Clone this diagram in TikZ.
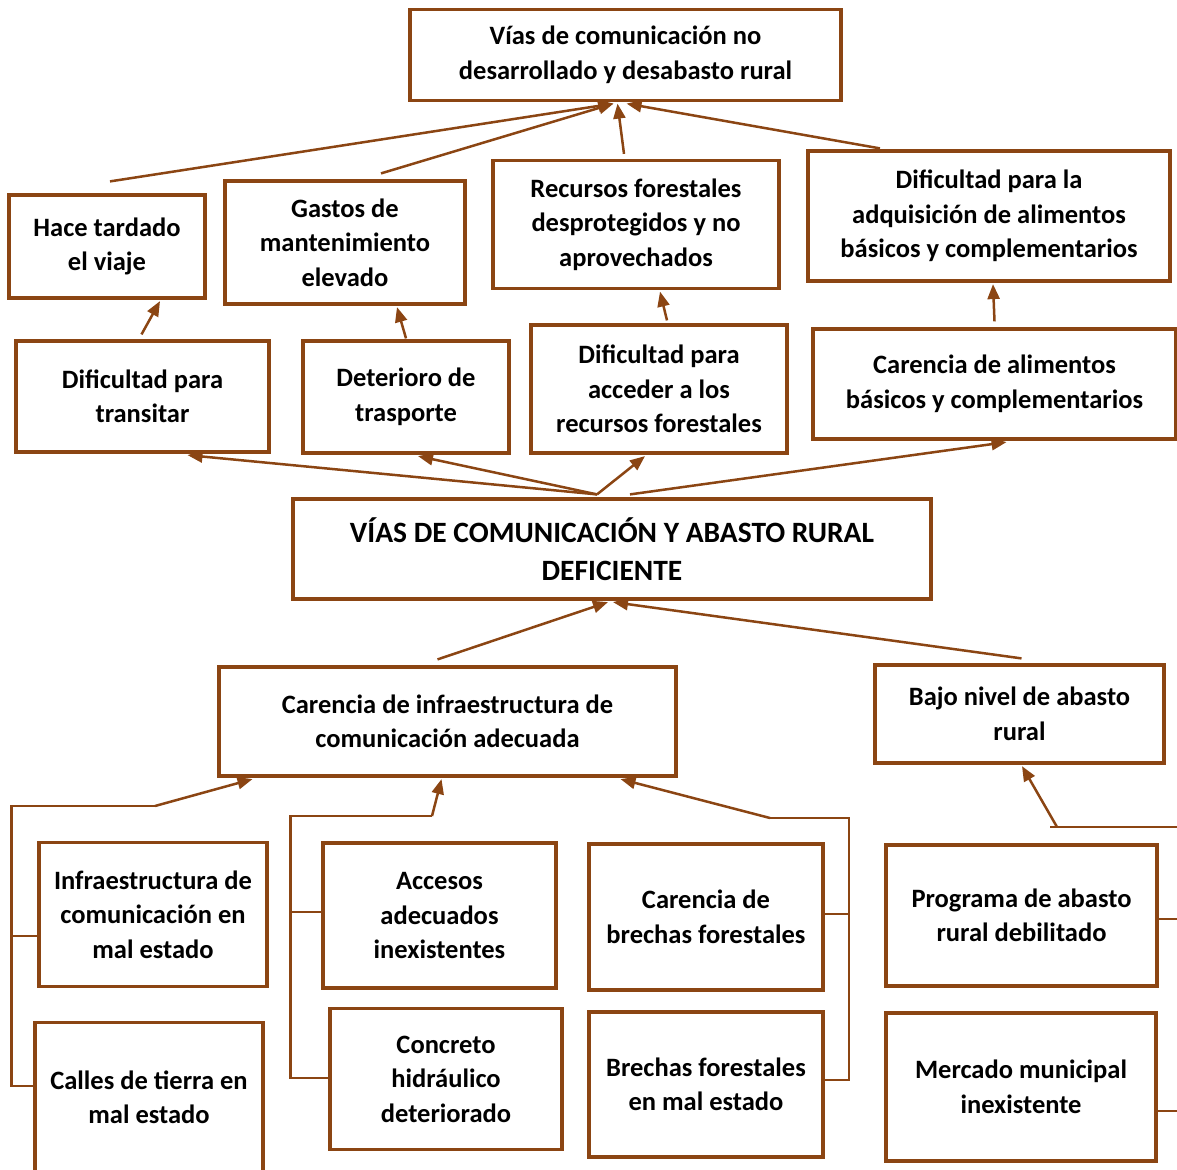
\documentclass[tikz,border=0pt]{standalone}
\usepackage{fontspec}
\setmainfont{Carlito}
\usetikzlibrary{arrows.meta}

\definecolor{cafe}{RGB}{139,69,19}

\tikzset{
  caja/.style={draw=cafe, line width=3.2pt, align=center, inner sep=0pt,
    font=\bfseries\fontsize{26.5}{34.5}\selectfont},
  flecha/.style={draw=cafe, line width=2.5pt, -{Triangle[length=15pt,width=12pt]}},
  linea/.style={draw=cafe, line width=2.2pt},
}

\begin{document}
\begin{tikzpicture}[x=1pt, y=-1pt]
\useasboundingbox (0,0) rectangle (1177,1169);

% nivel de efectos
\node[caja, minimum width=431, minimum height=91] (top) at (625.5,55) {V\'ias de comunicaci\'on no\\desarrollado y desabasto rural};
\node[caja, minimum width=196, minimum height=103] (hace) at (107,246.5) {Hace tardado\\el viaje};
\node[caja, minimum width=240, minimum height=123] (gastos) at (345,242.5) {Gastos de\\mantenimiento\\elevado};
\node[caja, minimum width=286, minimum height=128] (recursos) at (636,224.5) {Recursos forestales\\desprotegidos y no\\aprovechados};
\node[caja, minimum width=362, minimum height=130] (adquis) at (989,216) {Dificultad para la\\adquisici\'on de alimentos\\b\'asicos y complementarios};
\node[caja, minimum width=253, minimum height=111] (transitar) at (142.5,396.5) {Dificultad para\\transitar};
\node[caja, minimum width=206, minimum height=112] (deterioro) at (406,397) {Deterioro de\\trasporte};
\node[caja, minimum width=256, minimum height=128] (acceder) at (659,389) {Dificultad para\\acceder a los\\recursos forestales};
\node[caja, minimum width=363, minimum height=110] (alim) at (994.5,384) {Carencia de alimentos\\b\'asicos y complementarios};

% problema central
\node[caja, minimum width=638, minimum height=100, font=\bfseries\fontsize{29.5}{38}\selectfont] (central) at (612,549) {V\'IAS DE COMUNICACI\'ON Y ABASTO RURAL\\DEFICIENTE};

% causas
\node[caja, minimum width=457, minimum height=109] (infra) at (447.5,721.5) {Carencia de infraestructura de\\comunicaci\'on adecuada};
\node[caja, minimum width=289, minimum height=98] (bajo) at (1019.5,714) {Bajo nivel de abasto\\rural};
\node[caja, minimum width=228, minimum height=144] (infmal) at (153,914.5) {Infraestructura de\\comunicaci\'on en\\mal estado};
\node[caja, minimum width=228, minimum height=150] (calles) at (149,1097.5) {Calles de tierra en\\mal estado};
\node[caja, minimum width=233, minimum height=145] (accesos) at (439.5,915.5) {Accesos\\adecuados\\inexistentes};
\node[caja, minimum width=232, minimum height=141] (concreto) at (446,1079) {Concreto\\hidr\'aulico\\deteriorado};
\node[caja, minimum width=234, minimum height=146] (cbrechas) at (706,917) {Carencia de\\brechas forestales};
\node[caja, minimum width=234, minimum height=145] (brechasmal) at (706,1084.5) {Brechas forestales\\en mal estado};
\node[caja, minimum width=271, minimum height=141] (programa) at (1021.5,915.5) {Programa de abasto\\rural debilitado};
\node[caja, minimum width=270, minimum height=148] (mercado) at (1021,1087) {Mercado municipal\\inexistente};

% flechas hacia el efecto final
\draw[flecha] ([xshift=3pt,yshift=12pt]hace.north) -- ([xshift=-12pt,yshift=-1.5pt]top.south);
\draw[flecha] ([xshift=36pt,yshift=6pt]gastos.north) -- ([xshift=-12pt,yshift=-1.5pt]top.south);
\draw[flecha] ([xshift=-12pt,yshift=5pt]recursos.north) -- ([xshift=-8pt,yshift=-1.5pt]top.south);
\draw[flecha] ([xshift=-109pt,yshift=1pt]adquis.north) -- ([xshift=1pt,yshift=-1.5pt]top.south);

% efectos intermedios
\draw[flecha] ([xshift=-1pt,yshift=5pt]transitar.north) -- ([xshift=53pt,yshift=-1.5pt]hace.south);
\draw[flecha] ([yshift=1pt]deterioro.north) -- ([xshift=52pt,yshift=-1.5pt]gastos.south);
\draw[flecha] ([xshift=8pt,yshift=3pt]acceder.north) -- ([xshift=24pt,yshift=-1.5pt]recursos.south);
\draw[flecha] ([yshift=6pt]alim.north) -- ([xshift=4pt,yshift=-1.5pt]adquis.south);

% del problema central a los efectos
\draw[flecha] ([xshift=-15pt,yshift=3pt]central.north) -- ([xshift=45pt,yshift=-1.5pt]transitar.south);
\draw[flecha] ([xshift=-15pt,yshift=3pt]central.north) -- ([xshift=12pt,yshift=-1.5pt]deterioro.south);
\draw[flecha] ([xshift=-15pt,yshift=3pt]central.north) -- ([xshift=-14pt,yshift=-1.5pt]acceder.south);
\draw[flecha] ([xshift=18pt,yshift=3pt]central.north) -- ([xshift=12pt,yshift=-1.5pt]alim.south);

% causas al problema central
\draw[flecha] ([xshift=-10pt,yshift=6pt]infra.north) -- ([xshift=-4pt,yshift=-1.5pt]central.south);
\draw[flecha] ([xshift=2pt,yshift=5pt]bajo.north) -- ([xshift=1pt,yshift=-1.5pt]central.south);

% subcausas
\coordinate (k1) at (155,806);
\coordinate (k2) at (432,816);
\coordinate (k3) at (770,818);
\coordinate (k4) at (1057,827);

\draw[linea] ([yshift=11.5pt]calles.west) -- ++(-22,0) |- (k1);
\draw[linea] ([yshift=-21.5pt]infmal.west) -- ++(-26,0);
\draw[flecha] (k1) -- ([xshift=-195pt,yshift=-1.5pt]infra.south);

\draw[linea] ([yshift=1pt]concreto.west) -- ++(-38,0) |- (k2);
\draw[linea] ([yshift=3.5pt]accesos.west) -- ++(-31,0);
\draw[flecha] (k2) -- ([xshift=-6pt,yshift=-1.5pt]infra.south);

\draw[linea] ([yshift=4.5pt]brechasmal.east) -- ++(24,0) |- (k3);
\draw[linea] ([yshift=3pt]cbrechas.east) -- ++(24,0);
\draw[flecha] (k3) -- ([xshift=173pt,yshift=-1.5pt]infra.south);

\draw[linea] ([yshift=-24pt]mercado.east) -- ++(30,0) |- ([xshift=-7pt]k4);
\draw[linea] ([yshift=-3.5pt]programa.east) -- ++(30,0);
\draw[flecha] (k4) -- ([xshift=2.5pt,yshift=-1.5pt]bajo.south);
\end{tikzpicture}
\end{document}
